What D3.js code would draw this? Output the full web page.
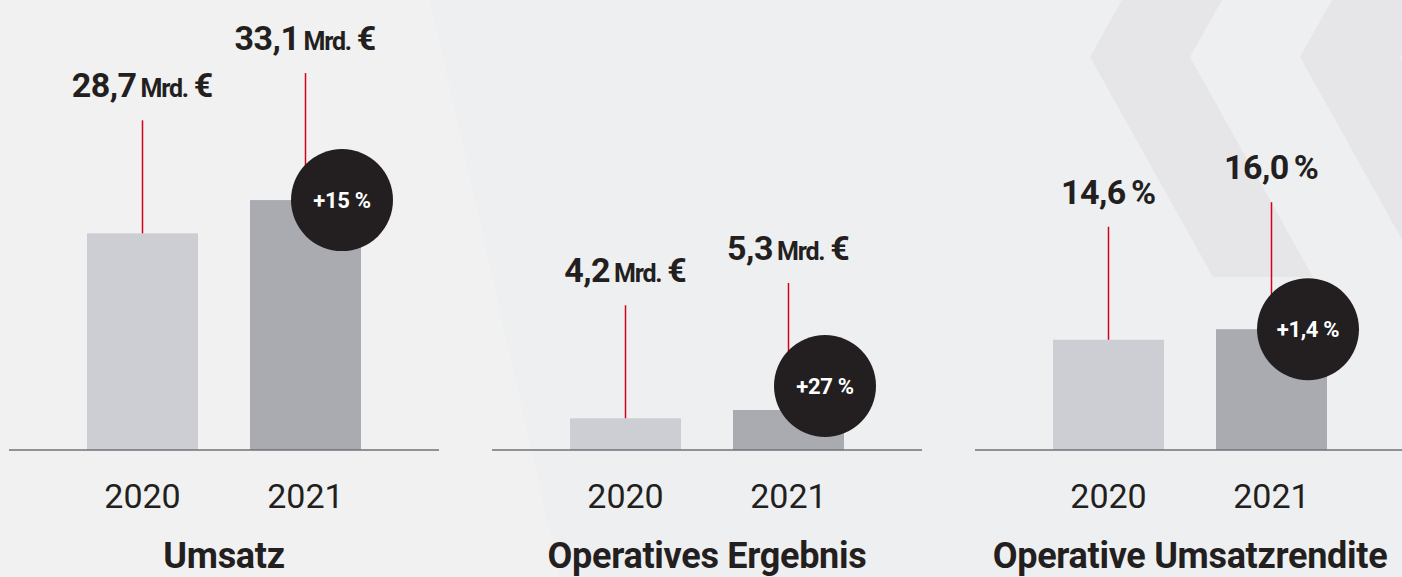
<!DOCTYPE html>
<html>
<head>
<meta charset="utf-8">
<script src="https://cdn.jsdelivr.net/npm/d3@7"></script>
<style>
  html, body { margin: 0; padding: 0; background: #eff0f0; }
  svg { display: block; font-family: Roboto, "Noto Sans", sans-serif; }
</style>
</head>
<body>
<div id="chart"></div>
<script>
const panels = ['Umsatz', 'Operatives Ergebnis', 'Operative Umsatzrendite'];
const years = ['2020', '2021'];
const values2020 = [28.7, 4.2, 14.6];
const values2021 = [33.1, 5.3, 16.0];
const valueLabels2020 = ['28,7', '4,2', '14,6'];
const valueLabels2021 = ['33,1', '5,3', '16,0'];
const units = ['Mrd.', 'Mrd.', '%'];
const changes = ['+15 %', '+27 %', '+1,4 %'];

const width = 1402;
const height = 577;
const baseY = 450;

const svg = d3.select('#chart').append('svg')
    .attr('width', width)
    .attr('height', height);

// background with the faint chevrons top right
svg.append('rect')
    .attr('width', width)
    .attr('height', height)
    .attr('fill', '#f0f1f0');

svg.append('path')
    .attr('d', 'M430,0 L1402,0 L1402,577 L560,577 Z')
    .attr('fill', '#eeeff0');

const chevron = (x0) => `M${x0 + 32},0 L${x0 + 132},0 L${x0 + 100},57 L${x0 + 223},277 L${x0 + 123},277 L${x0},57 Z`;
svg.selectAll('path.chevron')
    .data([1090, 1300])
    .enter().append('path')
    .attr('class', 'chevron')
    .attr('d', d => chevron(d))
    .attr('fill', '#e6e6e9');

const xPanel = d3.scaleBand()
    .domain(panels)
    .range([9, 1405])
    .paddingInner(53 / 483);

const xYear = d3.scaleBand()
    .domain(years)
    .range([78, 352])
    .paddingInner(0.319);

const y = d3.scaleLinear()
    .domain([0, 10])
    .range([baseY, baseY - 75.5]);

const barColors = { '2020': '#cdced3', '2021': '#aaabb0' };
const textColor = '#231f20';

panels.forEach((name, i) => {
    const g = svg.append('g')
        .attr('transform', `translate(${xPanel(name)},0)`);

    const bars = [
        { year: '2020', value: values2020[i], label: valueLabels2020[i], gap: 136 },
        { year: '2021', value: values2021[i], label: valueLabels2021[i], gap: 150 }
    ];

    g.selectAll('rect.bar')
        .data(bars)
        .enter().append('rect')
        .attr('class', 'bar')
        .attr('x', d => xYear(d.year))
        .attr('y', d => y(d.value))
        .attr('width', xYear.bandwidth())
        .attr('height', d => baseY - y(d.value))
        .attr('fill', d => barColors[d.year]);

    // baseline
    g.append('line')
        .attr('x1', 0)
        .attr('x2', xPanel.bandwidth())
        .attr('y1', baseY)
        .attr('y2', baseY)
        .attr('stroke', '#707279')
        .attr('stroke-width', 1.6);

    // red connector lines
    g.selectAll('line.lead')
        .data(bars)
        .enter().append('line')
        .attr('class', 'lead')
        .attr('x1', d => xYear(d.year) + xYear.bandwidth() / 2)
        .attr('x2', d => xYear(d.year) + xYear.bandwidth() / 2)
        .attr('y1', d => y(d.value) - d.gap + 23)
        .attr('y2', d => y(d.value))
        .attr('stroke', '#d5001c')
        .attr('stroke-width', 1.5);

    // value labels
    const labels = g.selectAll('text.value')
        .data(bars)
        .enter().append('text')
        .attr('class', 'value')
        .attr('x', d => xYear(d.year) + xYear.bandwidth() / 2)
        .attr('y', d => y(d.value) - d.gap)
        .attr('text-anchor', 'middle')
        .attr('fill', textColor)
        .attr('font-weight', 700);

    labels.append('tspan')
        .attr('font-size', 34)
        .attr('letter-spacing', -0.5)
        .text(d => d.label);

    if (units[i] === '%') {
        labels.append('tspan')
            .attr('dx', 5)
            .attr('font-size', 34)
            .text('%');
    } else {
        labels.append('tspan')
            .attr('dx', 4)
            .attr('font-size', 25)
            .attr('letter-spacing', -1.2)
            .text(units[i]);
        labels.append('tspan')
            .attr('dx', 6)
            .attr('font-size', 34)
            .text('€');
    }

    // change badge
    const top2021 = y(values2021[i]);
    const cx = xYear('2021') + xYear.bandwidth() - 19;
    const cy = Math.min(top2021, baseY - 64);
    g.append('circle')
        .attr('cx', cx)
        .attr('cy', cy)
        .attr('r', 51)
        .attr('fill', textColor);
    g.append('text')
        .attr('x', cx)
        .attr('y', cy + 8)
        .attr('text-anchor', 'middle')
        .attr('fill', '#ffffff')
        .attr('font-weight', 700)
        .attr('font-size', 22)
        .attr('letter-spacing', -0.3)
        .text(changes[i]);

    // year labels
    g.selectAll('text.year')
        .data(years)
        .enter().append('text')
        .attr('class', 'year')
        .attr('x', d => xYear(d) + xYear.bandwidth() / 2)
        .attr('y', 508)
        .attr('text-anchor', 'middle')
        .attr('fill', textColor)
        .attr('font-size', 34)
        .text(d => d);

    // panel title
    g.append('text')
        .attr('x', xPanel.bandwidth() / 2)
        .attr('y', 568)
        .attr('text-anchor', 'middle')
        .attr('fill', textColor)
        .attr('font-weight', 700)
        .attr('font-size', 36)
        .attr('letter-spacing', -0.3)
        .text(name);
});
</script>
</body>
</html>
